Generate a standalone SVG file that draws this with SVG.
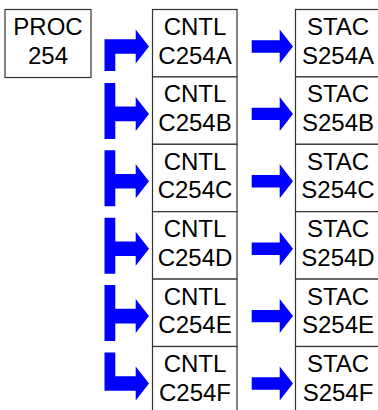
<svg xmlns="http://www.w3.org/2000/svg" xmlns:xlink="http://www.w3.org/1999/xlink" width="378" height="410" viewBox="0 0 378 410">
<style>
.box{fill:#fff;stroke:#333;stroke-width:1.2}
.t{font-family:"Liberation Sans",Arial,sans-serif;font-size:24px;fill:#000;text-anchor:middle}
.arr{fill:#0000ff;stroke:none}
</style>
<defs>
<polygon id="aFirst" class="arr" points="104.5,24.5 104.5,-7.3 135.7,-7.3 135.7,-17 149,0 135.7,17 135.7,7.3 115.3,7.3 115.3,24.5"/>
<polygon id="aT" class="arr" points="104.5,-31 115.3,-31 115.3,-7.3 135.7,-7.3 135.7,-17 149,0 135.7,17 135.7,7.3 115.3,7.3 115.3,25 104.5,25"/>
<polygon id="aL" class="arr" points="104.5,-31 115.3,-31 115.3,-7.3 135.7,-7.3 135.7,-17 149,0 135.7,17 135.7,7.3 104.5,7.3"/>
<polygon id="aR" class="arr" points="251.7,-6.2 279.7,-6.2 279.7,-17 293,0 279.7,17 279.7,6.2 251.7,6.2"/>
</defs>
<g id="PROC254">
<rect class="box" x="5" y="9.5" width="86" height="68"/>
<text class="t" x="48" y="34.5">PROC</text>
<text class="t" x="48" y="64">254</text>
</g>
<g id="C254A"><rect class="box" x="152.5" y="9.5" width="84.5" height="67.4"/><text class="t" x="195" y="35">CNTL</text><text class="t" x="195" y="63.5">C254A</text></g>
<g id="C254B"><rect class="box" x="152.5" y="76.9" width="84.5" height="67.4"/><text class="t" x="195" y="102.4">CNTL</text><text class="t" x="195" y="130.9">C254B</text></g>
<g id="C254C"><rect class="box" x="152.5" y="144.3" width="84.5" height="67.4"/><text class="t" x="195" y="169.8">CNTL</text><text class="t" x="195" y="198.3">C254C</text></g>
<g id="C254D"><rect class="box" x="152.5" y="211.7" width="84.5" height="67.4"/><text class="t" x="195" y="237.2">CNTL</text><text class="t" x="195" y="265.7">C254D</text></g>
<g id="C254E"><rect class="box" x="152.5" y="279.1" width="84.5" height="67.4"/><text class="t" x="195" y="304.6">CNTL</text><text class="t" x="195" y="333.1">C254E</text></g>
<g id="C254F"><rect class="box" x="152.5" y="346.5" width="84.5" height="67.4"/><text class="t" x="195" y="372">CNTL</text><text class="t" x="195" y="400.5">C254F</text></g>
<g id="S254A"><rect class="box" x="295.5" y="9.5" width="86" height="67.4"/><text class="t" x="338" y="35">STAC</text><text class="t" x="338" y="63.5">S254A</text></g>
<g id="S254B"><rect class="box" x="295.5" y="76.9" width="86" height="67.4"/><text class="t" x="338" y="102.4">STAC</text><text class="t" x="338" y="130.9">S254B</text></g>
<g id="S254C"><rect class="box" x="295.5" y="144.3" width="86" height="67.4"/><text class="t" x="338" y="169.8">STAC</text><text class="t" x="338" y="198.3">S254C</text></g>
<g id="S254D"><rect class="box" x="295.5" y="211.7" width="86" height="67.4"/><text class="t" x="338" y="237.2">STAC</text><text class="t" x="338" y="265.7">S254D</text></g>
<g id="S254E"><rect class="box" x="295.5" y="279.1" width="86" height="67.4"/><text class="t" x="338" y="304.6">STAC</text><text class="t" x="338" y="333.1">S254E</text></g>
<g id="S254F"><rect class="box" x="295.5" y="346.5" width="86" height="67.4"/><text class="t" x="338" y="372">STAC</text><text class="t" x="338" y="400.5">S254F</text></g>
<g id="connectors">
<use xlink:href="#aFirst" href="#aFirst" transform="translate(0,46.5)"/>
<use xlink:href="#aT" href="#aT" transform="translate(0,113.9)"/>
<use xlink:href="#aT" href="#aT" transform="translate(0,181.3)"/>
<use xlink:href="#aT" href="#aT" transform="translate(0,248.7)"/>
<use xlink:href="#aT" href="#aT" transform="translate(0,316.1)"/>
<use xlink:href="#aL" href="#aL" transform="translate(0,383.5)"/>
<use xlink:href="#aR" href="#aR" transform="translate(0,46.5)"/>
<use xlink:href="#aR" href="#aR" transform="translate(0,113.9)"/>
<use xlink:href="#aR" href="#aR" transform="translate(0,181.3)"/>
<use xlink:href="#aR" href="#aR" transform="translate(0,248.7)"/>
<use xlink:href="#aR" href="#aR" transform="translate(0,316.1)"/>
<use xlink:href="#aR" href="#aR" transform="translate(0,383.5)"/>
</g>
</svg>
